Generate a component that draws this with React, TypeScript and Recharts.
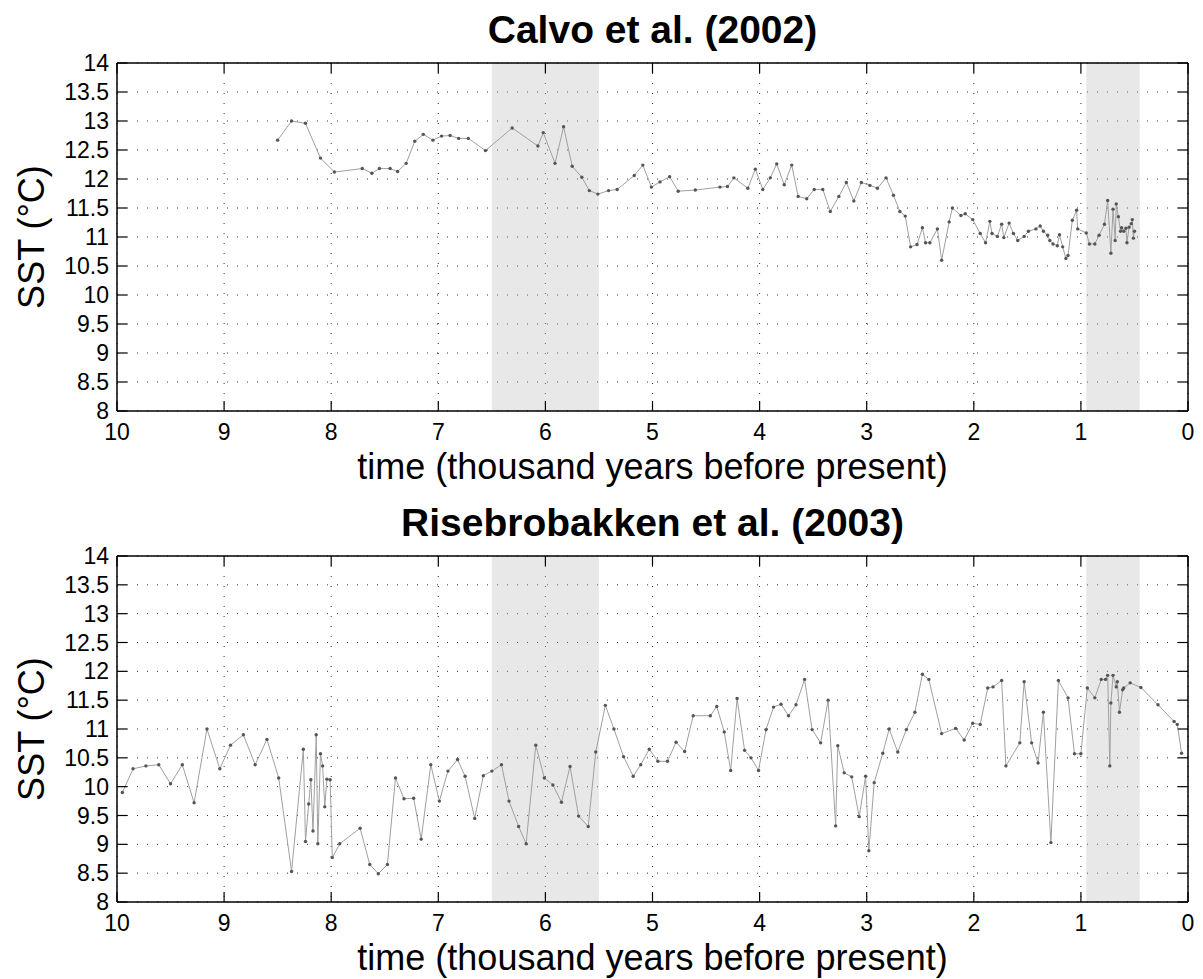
import React from "react";
import {
  LineChart,
  Line,
  XAxis,
  YAxis,
  CartesianGrid,
  ReferenceArea,
} from "recharts";

const xTicks = [0, 1, 2, 3, 4, 5, 6, 7, 8, 9, 10];
const yTicks = [8, 8.5, 9, 9.5, 10, 10.5, 11, 11.5, 12, 12.5, 13, 13.5, 14];
const shadedBands = [
  [6.5, 5.5],
  [0.95, 0.45],
];

// Calvo et al. (2002) — age in kyr BP, SST in °C
const calvoAge = [
  8.5, 8.37, 8.24, 8.1, 7.97, 7.71, 7.62, 7.55, 7.45, 7.38,
  7.3, 7.22, 7.14, 7.05, 6.97, 6.89, 6.81, 6.72, 6.56, 6.31,
  6.07, 6.02, 5.91, 5.83, 5.75, 5.66, 5.59, 5.51, 5.41, 5.33,
  5.17, 5.09, 5.01, 4.93, 4.84, 4.76, 4.6, 4.37, 4.3, 4.24,
  4.11, 4.04, 3.97, 3.9, 3.84, 3.77, 3.7, 3.64, 3.56, 3.49,
  3.41, 3.34, 3.26, 3.19, 3.12, 3.05, 2.97, 2.9, 2.82, 2.75,
  2.69, 2.64, 2.59, 2.53, 2.48, 2.45, 2.41, 2.34, 2.3, 2.23,
  2.2, 2.12, 2.08, 2.01, 1.94, 1.89, 1.85, 1.83, 1.78, 1.74,
  1.72, 1.67, 1.63, 1.59, 1.53, 1.49, 1.42, 1.38, 1.35, 1.31,
  1.29, 1.26, 1.22, 1.2, 1.17, 1.14, 1.12, 1.08, 1.04, 1.03,
  0.95, 0.92, 0.87, 0.83, 0.78, 0.75, 0.72, 0.7, 0.68, 0.67,
  0.65, 0.63, 0.62, 0.6, 0.58, 0.57, 0.55, 0.53, 0.52, 0.51, 0.5,
];
const calvoSst = [
  12.67, 13.0, 12.96, 12.36, 12.12, 12.18, 12.1, 12.18, 12.18, 12.13,
  12.27, 12.65, 12.77, 12.67, 12.74, 12.75, 12.7, 12.7, 12.49, 12.88,
  12.57, 12.8, 12.27, 12.9, 12.22, 12.03, 11.8, 11.74, 11.8, 11.82,
  12.06, 12.24, 11.86, 11.95, 12.04, 11.79, 11.81, 11.86, 11.87, 12.02,
  11.84, 12.17, 11.82, 12.02, 12.26, 11.9, 12.24, 11.7, 11.66, 11.82,
  11.82, 11.44, 11.7, 11.94, 11.62, 11.94, 11.89, 11.84, 12.02, 11.72,
  11.44, 11.36, 10.83, 10.87, 11.16, 10.9, 10.9, 11.14, 10.6, 11.26,
  11.5, 11.37, 11.4, 11.3, 11.06, 10.9, 11.27, 11.06, 11.01, 11.22,
  10.99, 11.24, 11.06, 10.94, 11.01, 11.1, 11.14, 11.19, 11.1, 11.03,
  10.94, 10.88, 10.85, 11.04, 10.83, 10.63, 10.68, 11.29, 11.46, 11.14,
  11.07, 10.88, 10.88, 11.03, 11.22, 11.63, 10.72, 11.48, 10.94, 11.57,
  11.35, 11.1, 11.16, 11.1, 11.15, 10.9, 11.17, 11.23, 11.3, 10.98, 11.1,
];

// Risebrobakken et al. (2003)
const riseAge = [
  9.95, 9.85, 9.73, 9.61, 9.5, 9.39, 9.28, 9.16, 9.04, 8.94,
  8.82, 8.71, 8.6, 8.49, 8.37, 8.26, 8.24, 8.21, 8.19, 8.17,
  8.14, 8.125, 8.1, 8.08, 8.06, 8.04, 8.01, 7.99, 7.92, 7.73,
  7.64, 7.56, 7.475, 7.4, 7.32, 7.23, 7.16, 7.07, 6.99, 6.91,
  6.82, 6.75, 6.66, 6.58, 6.5, 6.41, 6.34, 6.25, 6.18, 6.09,
  6.01, 5.93, 5.85, 5.77, 5.69, 5.6, 5.53, 5.44, 5.36, 5.27,
  5.18, 5.11, 5.03, 4.95, 4.86, 4.78, 4.7, 4.62, 4.46, 4.4,
  4.33, 4.27, 4.21, 4.14, 4.08, 4.01, 3.94, 3.87, 3.8, 3.73,
  3.66, 3.58, 3.51, 3.43, 3.36, 3.29, 3.27, 3.21, 3.14, 3.07,
  3.01, 2.98, 2.93, 2.85, 2.79, 2.71, 2.63, 2.55, 2.48, 2.42,
  2.3, 2.17, 2.09, 2.01, 1.94, 1.87, 1.82, 1.74, 1.7, 1.57,
  1.53, 1.46, 1.4, 1.35, 1.28, 1.21, 1.12, 1.06, 1.0, 0.94,
  0.87, 0.81, 0.77, 0.75, 0.73, 0.72, 0.7, 0.67, 0.66, 0.64,
  0.61, 0.6, 0.54, 0.44, 0.28, 0.13, 0.1, 0.06,
];
const riseSst = [
  9.9, 10.31, 10.36, 10.38, 10.05, 10.38, 9.72, 11.0, 10.31, 10.72,
  10.9, 10.38, 10.82, 10.15, 8.53, 10.65, 9.05, 9.7, 10.12, 9.23,
  10.9, 9.01, 10.57, 10.36, 9.65, 10.13, 10.12, 8.77, 9.01, 9.28,
  8.65, 8.49, 8.65, 10.15, 9.79, 9.8, 9.09, 10.38, 9.75, 10.27,
  10.47, 10.18, 9.45, 10.19, 10.27, 10.38, 9.75, 9.31, 9.01, 10.72,
  10.15, 10.03, 9.73, 10.35, 9.49, 9.31, 10.6, 11.41, 11.0, 10.52,
  10.18, 10.38, 10.65, 10.44, 10.44, 10.77, 10.61, 11.23, 11.23, 11.39,
  10.95, 10.28, 11.53, 10.63, 10.5, 10.28, 10.99, 11.38, 11.43, 11.23,
  11.42, 11.86, 10.99, 10.76, 11.5, 9.32, 10.71, 10.24, 10.17, 9.48,
  10.18, 8.89, 10.07, 10.58, 11.0, 10.6, 10.99, 11.29, 11.95, 11.86,
  10.92, 11.01, 10.81, 11.1, 11.08, 11.71, 11.73, 11.84, 10.36, 10.76,
  11.82, 10.76, 10.41, 11.29, 9.03, 11.84, 11.54, 10.57, 10.57, 11.71,
  11.54, 11.86, 11.86, 11.93, 10.36, 11.45, 11.93, 11.73, 11.82, 11.29,
  11.68, 11.71, 11.8, 11.72, 11.42, 11.13, 11.08, 10.58,
];

const W = 1203;
const PLOT_LEFT = 117;
const PLOT_RIGHT = 1188;
const TICK_LEN = 10;
const TICK_FONT = 23;
const FONT = '"Liberation Sans", Arial, Helvetica, sans-serif';

function BottomTick({ x, y, payload }: any) {
  return (
    <g>
      <line x1={x} y1={y} x2={x} y2={y - TICK_LEN} stroke="#000" strokeWidth={1.2} />
      <text x={x} y={y + 29} textAnchor="middle" fontSize={TICK_FONT} fontFamily={FONT} fill="#000">
        {payload.value}
      </text>
    </g>
  );
}

function TopTick({ x, y }: any) {
  return <line x1={x} y1={y} x2={x} y2={y + TICK_LEN} stroke="#000" strokeWidth={1.2} />;
}

function LeftTick({ x, y, payload }: any) {
  return (
    <g>
      <line x1={x} y1={y} x2={x + TICK_LEN} y2={y} stroke="#000" strokeWidth={1.2} />
      <text x={x - 8} y={y + 8} textAnchor="end" fontSize={TICK_FONT} fontFamily={FONT} fill="#000">
        {payload.value}
      </text>
    </g>
  );
}

function RightTick({ x, y }: any) {
  return <line x1={x} y1={y} x2={x - TICK_LEN} y2={y} stroke="#000" strokeWidth={1.2} />;
}

interface PanelProps {
  title: string;
  ages: number[];
  sst: number[];
  plotTop: number;
  plotHeight: number;
  height: number;
}

function Panel({ title, ages, sst, plotTop, plotHeight, height }: PanelProps) {
  const data = ages.map((age, i) => ({ age, sst: sst[i] }));
  const plotBottom = plotTop + plotHeight;
  const midX = (PLOT_LEFT + PLOT_RIGHT) / 2;
  const midY = plotTop + plotHeight / 2;
  const border = { stroke: "#000", strokeWidth: 1.5 };

  return (
    <div style={{ position: "relative", width: W, height }}>
      <LineChart
        width={W}
        height={height}
        data={data}
        margin={{ top: plotTop - 1, right: W - PLOT_RIGHT - 1, bottom: 0, left: 0 }}
      >
        <CartesianGrid xAxisId="b" yAxisId="l" stroke="#333" strokeDasharray="1 9" />
        {shadedBands.map(([a, b]) => (
          <ReferenceArea
            key={a}
            xAxisId="b"
            yAxisId="l"
            x1={a}
            x2={b}
            fill="#b8b8b8"
            fillOpacity={0.33}
            stroke="none"
          />
        ))}
        <XAxis
          xAxisId="b"
          type="number"
          dataKey="age"
          domain={[0, 10]}
          reversed
          allowDataOverflow
          ticks={xTicks}
          interval={0}
          tickSize={0}
          tickMargin={0}
          tickLine={false}
          axisLine={border}
          height={height - plotBottom}
          tick={(p: any) => <BottomTick {...p} />}
        />
        <XAxis
          xAxisId="t"
          orientation="top"
          type="number"
          dataKey="age"
          domain={[0, 10]}
          reversed
          allowDataOverflow
          ticks={xTicks}
          interval={0}
          tickSize={0}
          tickMargin={0}
          tickLine={false}
          axisLine={border}
          height={1}
          tick={(p: any) => <TopTick {...p} />}
        />
        <YAxis
          yAxisId="l"
          type="number"
          domain={[8, 14]}
          allowDataOverflow
          ticks={yTicks}
          interval={0}
          tickSize={0}
          tickMargin={0}
          tickLine={false}
          axisLine={border}
          width={PLOT_LEFT}
          tick={(p: any) => <LeftTick {...p} />}
        />
        <YAxis
          yAxisId="r"
          orientation="right"
          type="number"
          domain={[8, 14]}
          allowDataOverflow
          ticks={yTicks}
          interval={0}
          tickSize={0}
          tickMargin={0}
          tickLine={false}
          axisLine={border}
          width={1}
          tick={(p: any) => <RightTick {...p} />}
        />
        <Line
          xAxisId="b"
          yAxisId="l"
          type="linear"
          dataKey="sst"
          stroke="#a0a0a0"
          strokeWidth={1}
          dot={{ r: 1.7, fill: "#555", stroke: "none" }}
          activeDot={false}
          isAnimationActive={false}
        />
      </LineChart>
      <svg
        width={W}
        height={height}
        style={{ position: "absolute", left: 0, top: 0, pointerEvents: "none" }}
      >
        <text x={midX} y={plotTop - 20} textAnchor="middle" fontSize={39} fontWeight="bold" fontFamily={FONT} fill="#000">
          {title}
        </text>
        <text
          x={44}
          y={midY}
          transform={`rotate(-90, 44, ${midY})`}
          textAnchor="middle"
          fontSize={36}
          fontFamily={FONT}
          fill="#000"
        >
          SST (°C)
        </text>
        <text x={midX} y={plotBottom + 68} textAnchor="middle" fontSize={36} fontFamily={FONT} fill="#000">
          time (thousand years before present)
        </text>
      </svg>
    </div>
  );
}

export default function App() {
  return (
    <div style={{ position: "absolute", left: 0, top: 0, width: W, height: 979, background: "#fff" }}>
      <Panel title="Calvo et al. (2002)" ages={calvoAge} sst={calvoSst} plotTop={63} plotHeight={348} height={491} />
      <Panel
        title="Risebrobakken et al. (2003)"
        ages={riseAge}
        sst={riseSst}
        plotTop={65}
        plotHeight={346}
        height={488}
      />
    </div>
  );
}
